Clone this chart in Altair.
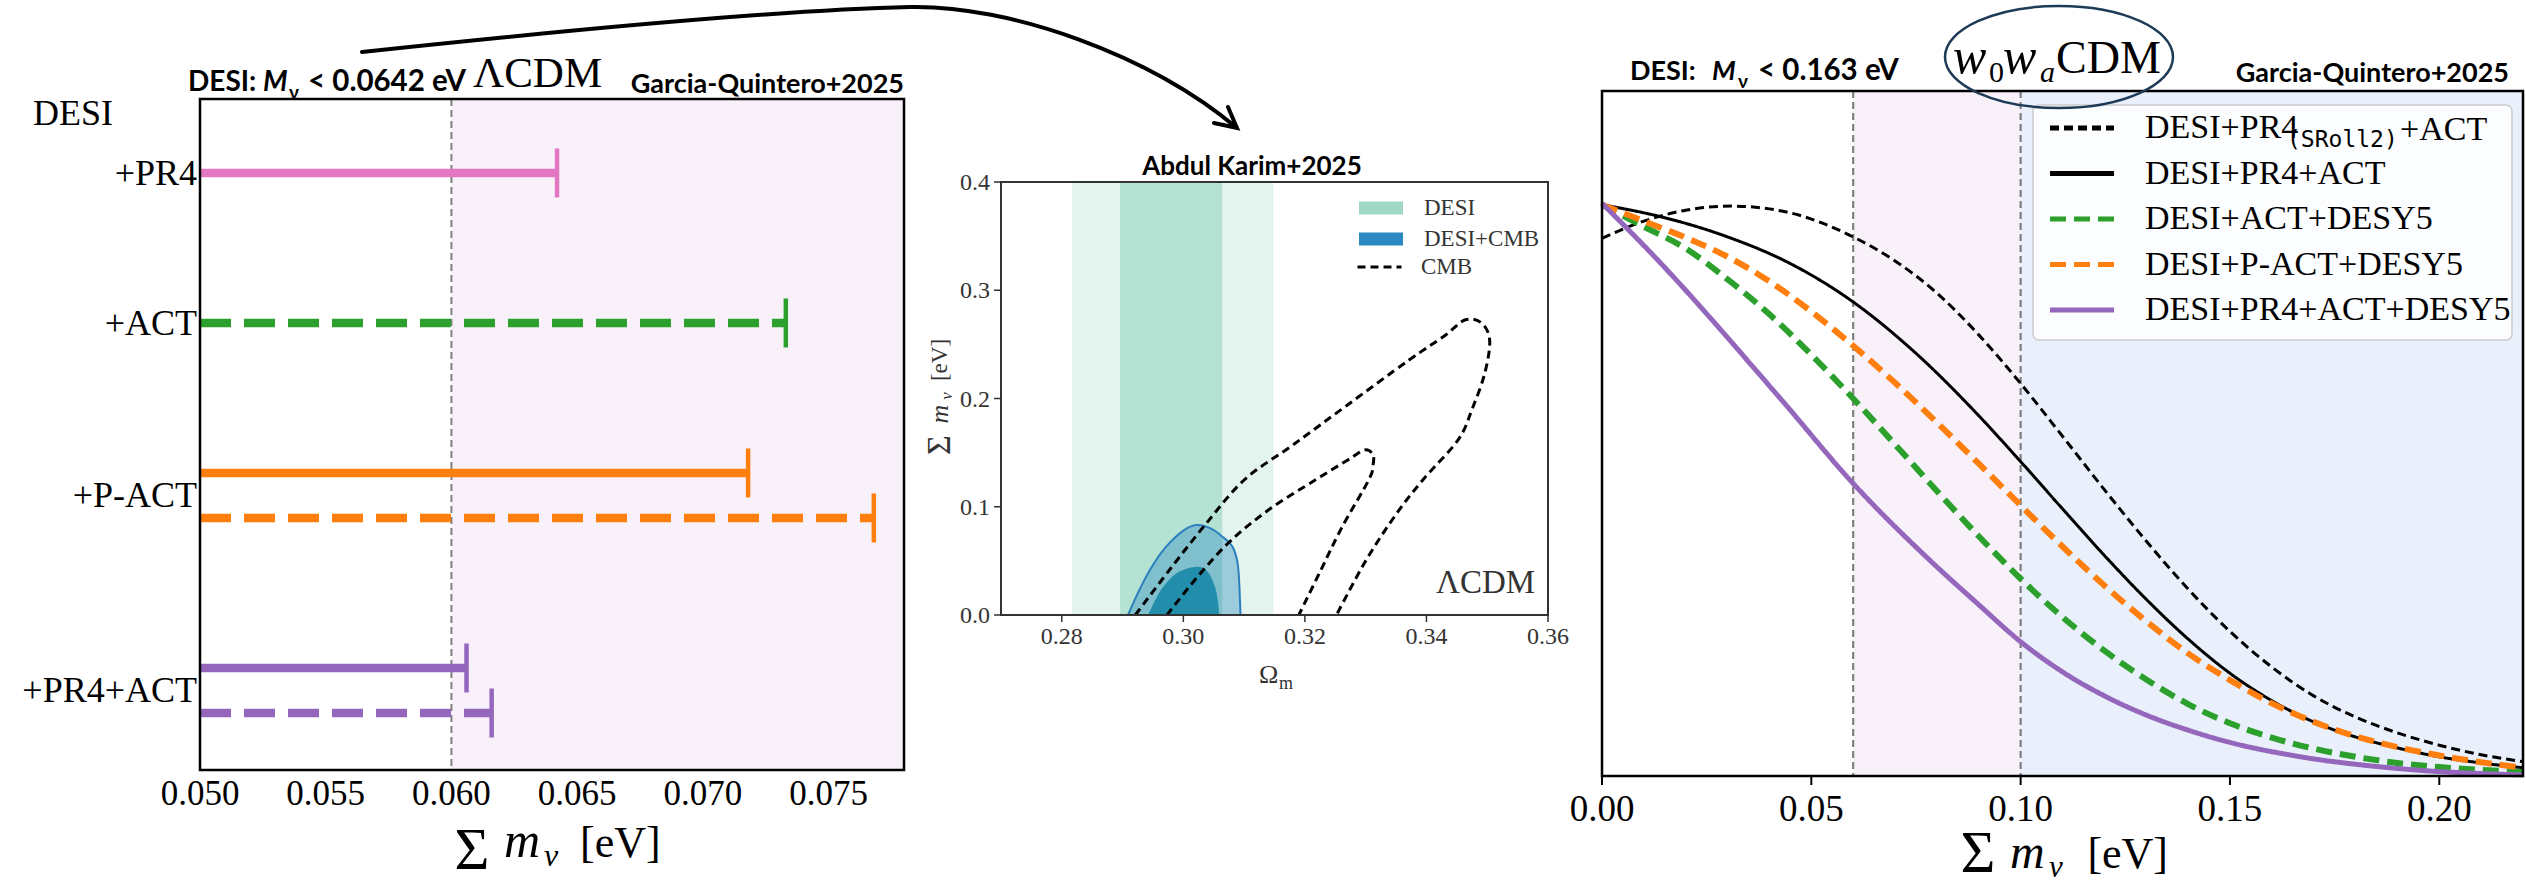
import altair as alt
import pandas as pd

W, H = 2526, 886
SERIF = "Liberation Serif"
SANS = "Lato, 'Open Sans', sans-serif"
MONO = "DejaVu Sans Mono"

# ---------------- left panel : LCDM upper limits ----------------
left_names = ["+PR4", "+ACT", "+P-ACT", "+P-ACT", "+PR4+ACT", "+PR4+ACT"]
left_styles = ["solid", "dashed", "solid", "dashed", "solid", "dashed"]
left_limits = [0.0642, 0.0733, 0.0718, 0.0768, 0.0606, 0.0616]
left_rows = [0.0, 1.0, 2.0, 2.3, 3.3, 3.6]
left_groups = ["+PR4", "+ACT", "+P-ACT", "+PR4+ACT"]
left_xdomain = [0.050, 0.078]
left_ydomain = [-0.493, 3.98]
left_xticks = [0.050, 0.055, 0.060, 0.065, 0.070, 0.075]
left_floor = 0.060

# ---------------- middle panel : Abdul Karim+2025 ----------------
mid_xdomain = [0.27, 0.36]
mid_ydomain = [0.0, 0.4]
mid_xticks = [0.28, 0.30, 0.32, 0.34, 0.36]
mid_yticks = [0.0, 0.1, 0.2, 0.3, 0.4]
desi_band_68 = [0.2896, 0.3064]
desi_band_95 = [0.2817, 0.3148]
cmb95_x = [0.2921, 0.2975, 0.3034, 0.3100, 0.3180, 0.3270, 0.3370, 0.3430, 0.3463, 0.3490,
           0.3504, 0.3496, 0.3475, 0.3452, 0.3394, 0.3350, 0.3300, 0.3252]
cmb95_y = [0.000, 0.040, 0.082, 0.1247, 0.157, 0.194, 0.235, 0.258, 0.2725, 0.270,
           0.254, 0.2235, 0.190, 0.1617, 0.1247, 0.093, 0.050, 0.000]
cmb68_x = [0.2973, 0.3020, 0.3074, 0.3140, 0.3217, 0.3270, 0.3298, 0.3312, 0.3312, 0.3305,
           0.3260, 0.3225, 0.3190]
cmb68_y = [0.000, 0.033, 0.0665, 0.097, 0.1247, 0.143, 0.1524, 0.148, 0.138, 0.1247,
           0.080, 0.040, 0.000]
dc95_x = [0.2909, 0.2925, 0.2945, 0.2970, 0.3000, 0.3022, 0.3045, 0.3065, 0.3081, 0.3090, 0.3094]
dc95_y = [0.000, 0.020, 0.0416, 0.062, 0.078, 0.0831, 0.080, 0.072, 0.0631, 0.045, 0.000]
dc68_x = [0.2942, 0.2955, 0.2967, 0.2990, 0.3022, 0.3040, 0.3052, 0.3057, 0.3059]
dc68_y = [0.000, 0.015, 0.026, 0.039, 0.0446, 0.040, 0.026, 0.012, 0.000]

# ---------------- right panel : w0waCDM posteriors ----------------
right_xdomain = [0.0, 0.22]
right_ydomain = [0.0, 1.0]
right_xticks = [0.00, 0.05, 0.10, 0.15, 0.20]
right_bounds = [0.06, 0.10]
right_series = ["DESI+PR4(SRoll2)+ACT", "DESI+PR4+ACT", "DESI+ACT+DESY5",
                "DESI+P-ACT+DESY5", "DESI+PR4+ACT+DESY5"]
sroll2_x = [0.0, 0.01, 0.02, 0.031, 0.045, 0.06, 0.07, 0.08, 0.09, 0.10, 0.11, 0.12, 0.13,
            0.14, 0.15, 0.16, 0.17, 0.18, 0.19, 0.20, 0.21, 0.22]
sroll2_y = [0.785, 0.810, 0.826, 0.832, 0.822, 0.787, 0.752, 0.705, 0.644, 0.573, 0.496, 0.418,
            0.343, 0.273, 0.211, 0.159, 0.117, 0.086, 0.063, 0.045, 0.031, 0.021]
pr4act_x = [0.0, 0.015, 0.03, 0.045, 0.06, 0.075, 0.09, 0.10, 0.11, 0.12, 0.13, 0.14, 0.15,
            0.16, 0.17, 0.18, 0.19, 0.20, 0.21, 0.22]
pr4act_y = [0.834, 0.815, 0.787, 0.748, 0.692, 0.617, 0.526, 0.459, 0.390, 0.322, 0.258, 0.200,
            0.150, 0.110, 0.079, 0.057, 0.041, 0.028, 0.019, 0.012]
actdes_x = [0.0, 0.01, 0.02, 0.03, 0.04, 0.05, 0.06, 0.07, 0.08, 0.09, 0.10, 0.11, 0.12, 0.13,
            0.14, 0.15, 0.16, 0.17, 0.18, 0.19, 0.20, 0.21, 0.22]
actdes_y = [0.834, 0.802, 0.770, 0.725, 0.674, 0.615, 0.551, 0.484, 0.416, 0.350, 0.288, 0.232,
            0.183, 0.141, 0.105, 0.077, 0.056, 0.040, 0.028, 0.019, 0.013, 0.009, 0.006]
pactdes_x = [0.0, 0.01, 0.02, 0.03, 0.04, 0.05, 0.06, 0.07, 0.08, 0.09, 0.10, 0.11, 0.12, 0.13,
             0.14, 0.15, 0.16, 0.17, 0.18, 0.19, 0.20, 0.21, 0.22]
pactdes_y = [0.834, 0.810, 0.786, 0.758, 0.722, 0.678, 0.628, 0.574, 0.516, 0.456, 0.395, 0.335,
             0.278, 0.226, 0.179, 0.140, 0.106, 0.079, 0.058, 0.042, 0.030, 0.020, 0.012]
pr4actdes_x = [0.0, 0.0107, 0.0429, 0.06, 0.0783, 0.09, 0.10, 0.11, 0.12, 0.13, 0.14, 0.15,
               0.165, 0.19, 0.22]
pr4actdes_y = [0.836, 0.770, 0.549, 0.427, 0.315, 0.250, 0.196, 0.152, 0.117, 0.089, 0.067,
               0.049, 0.030, 0.011, 0.0015]

# ---------------- styles ----------------
left_colors = ["#e377c2", "#2ca02c", "#ff7f0e", "#9467bd"]
right_colors = ["#000000", "#000000", "#2ca02c", "#ff7f0e", "#9467bd"]
right_dashes = [[9, 5], [1, 0], [16, 8], [16, 8], [1, 0]]

# pixel placement of the three plot areas on the 2526x886 canvas
LEFT_X, LEFT_Y = [200, 904], [99, 770]
MID_X, MID_Y = [1001, 1548], [615, 182]
RIGHT_X, RIGHT_Y = [1602, 2523], [776, 91]


def qscale(domain, rng):
    return alt.Scale(domain=domain, range=rng, nice=False, zero=False)


def txt(s, x, y, size, font=SERIF, weight="normal", style="normal", align="left",
        baseline="alphabetic", angle=0, color="black"):
    return alt.Chart(pd.DataFrame({"t": [s]})).mark_text(
        font=font, fontSize=size, fontWeight=weight, fontStyle=style, align=align,
        baseline=baseline, angle=angle, color=color
    ).encode(text="t:N", x=alt.value(x), y=alt.value(y))


def xlabels(ticks, xs, ybase, size, fmt, color="black"):
    return alt.Chart(pd.DataFrame({"v": ticks})).mark_text(
        font=SERIF, fontSize=size, align="center", baseline="alphabetic", color=color
    ).encode(x=alt.X("v:Q", scale=xs, axis=None), y=alt.value(ybase),
             text=alt.Text("v:Q", format=fmt))


def xticks(ticks, xs, y0, y1, width, color="black"):
    return alt.Chart(pd.DataFrame({"v": ticks})).mark_rule(color=color, strokeWidth=width).encode(
        x=alt.X("v:Q", scale=xs, axis=None), y=alt.value(y0), y2=alt.value(y1))


# ================= LEFT PANEL =================
lxs = qscale(left_xdomain, LEFT_X)
lys = qscale(left_ydomain, LEFT_Y)
left_df = pd.DataFrame({"name": left_names, "style": left_styles, "limit": left_limits,
                        "row": left_rows, "lo": left_xdomain[0]})
label_pos = [float(left_df.loc[left_df.name == g, "row"].mean()) for g in left_groups]
lbox = pd.DataFrame({"x0": [left_xdomain[0]], "x1": [left_xdomain[1]], "s0": [left_floor],
                     "y0": [left_ydomain[0]], "y1": [left_ydomain[1]]})
color_left = alt.Color("name:N", scale=alt.Scale(domain=left_groups, range=left_colors), legend=None)
l_shade = alt.Chart(lbox).mark_rect(color="#f8f1f9").encode(
    x=alt.X("s0:Q", scale=lxs, axis=None), x2="x1:Q",
    y=alt.Y("y0:Q", scale=lys, axis=None), y2="y1:Q")
l_vline = alt.Chart(lbox).mark_rule(color="#808080", strokeDash=[7, 4], strokeWidth=2).encode(
    x=alt.X("s0:Q", scale=lxs, axis=None), y=alt.Y("y0:Q", scale=lys, axis=None), y2="y1:Q")
l_bars = alt.Chart(left_df).mark_rule(strokeWidth=8.5).encode(
    x=alt.X("lo:Q", scale=lxs, axis=None), x2="limit:Q",
    y=alt.Y("row:Q", scale=lys, axis=None),
    color=color_left,
    strokeDash=alt.StrokeDash("style:N", scale=alt.Scale(domain=["solid", "dashed"],
                                                         range=[[1, 0], [31, 13]]), legend=None))
l_caps = alt.Chart(left_df).mark_tick(orient="vertical", size=49, thickness=4.5, opacity=1).encode(
    x=alt.X("limit:Q", scale=lxs, axis=None), y=alt.Y("row:Q", scale=lys, axis=None),
    color=color_left)
l_frame = alt.Chart(lbox).mark_rect(filled=False, color="black", strokeWidth=2.5).encode(
    x=alt.X("x0:Q", scale=lxs, axis=None), x2="x1:Q",
    y=alt.Y("y0:Q", scale=lys, axis=None), y2="y1:Q")
l_xlab = xlabels(left_xticks, lxs, 805, 35, ".3f")
l_ylab = alt.Chart(pd.DataFrame({"g": left_groups, "p": label_pos})).mark_text(
    font=SERIF, fontSize=36, align="right", baseline="alphabetic", dy=12, color="black"
).encode(x=alt.value(197), y=alt.Y("p:Q", scale=lys, axis=None), text="g:N")
left = alt.layer(l_shade, l_vline, l_bars, l_caps, l_frame, l_xlab, l_ylab)

# ================= MIDDLE PANEL =================
mxs = qscale(mid_xdomain, MID_X)
mys = qscale(mid_ydomain, MID_Y)
fill_scale = alt.Scale(domain=["DESI", "DESI+CMB"], range=["#9ed9c5", "#2b88c0"])
fill_legend = alt.Legend(orient="none", legendX=1369.5, legendY=196.5, title=None,
                         symbolType="M-3,-0.9H3V0.9H-3Z", symbolSize=215, symbolOpacity=1,
                         symbolStrokeWidth=0, labelFont=SERIF, labelFontSize=23,
                         labelColor="#333333", labelOffset=31.5, rowPadding=7, padding=0)
dash_legend = alt.Legend(orient="none", legendX=1368, legendY=255.5, title=None,
                         symbolType="M-3,0H3", symbolSize=215, symbolStrokeWidth=3,
                         symbolStrokeColor="black", symbolOpacity=1, labelFont=SERIF,
                         labelFontSize=23, labelColor="#333333", labelOffset=30, padding=0)
bands = pd.DataFrame({"label": ["DESI", "DESI"], "lo": [desi_band_95[0], desi_band_68[0]],
                      "hi": [desi_band_95[1], desi_band_68[1]], "lev": ["95", "68"],
                      "y0": mid_ydomain[0], "y1": mid_ydomain[1]})
m_b95 = alt.Chart(bands[bands.lev == "95"]).mark_rect(opacity=0.29).encode(
    x=alt.X("lo:Q", scale=mxs, axis=None), x2="hi:Q",
    y=alt.Y("y0:Q", scale=mys, axis=None), y2="y1:Q",
    fill=alt.Fill("label:N", scale=fill_scale, legend=fill_legend))
m_b68 = alt.Chart(bands[bands.lev == "68"]).mark_rect(opacity=0.68).encode(
    x=alt.X("lo:Q", scale=mxs, axis=None), x2="hi:Q",
    y=alt.Y("y0:Q", scale=mys, axis=None), y2="y1:Q",
    fill=alt.Fill("label:N", scale=fill_scale, legend=fill_legend))
dc95 = pd.DataFrame({"x": dc95_x, "y": dc95_y, "base": 0.0, "label": "DESI+CMB"})
dc68 = pd.DataFrame({"x": dc68_x, "y": dc68_y, "base": 0.0})
m_dc95 = alt.Chart(dc95).mark_area(opacity=0.38, interpolate="cardinal").encode(
    x=alt.X("x:Q", scale=mxs, axis=None), y=alt.Y("y:Q", scale=mys, axis=None), y2="base:Q",
    fill=alt.Fill("label:N", scale=fill_scale, legend=fill_legend))
m_dc95_line = alt.Chart(dc95).mark_line(color="#2b7fbd", strokeWidth=2, interpolate="cardinal").encode(
    x=alt.X("x:Q", scale=mxs, axis=None), y=alt.Y("y:Q", scale=mys, axis=None))
m_dc68 = alt.Chart(dc68).mark_area(color="#1a87a8", opacity=0.9, interpolate="cardinal").encode(
    x=alt.X("x:Q", scale=mxs, axis=None), y=alt.Y("y:Q", scale=mys, axis=None), y2="base:Q")
cmb = pd.concat([
    pd.DataFrame({"x": cmb95_x, "y": cmb95_y, "contour": "95", "idx": range(len(cmb95_x))}),
    pd.DataFrame({"x": cmb68_x, "y": cmb68_y, "contour": "68", "idx": range(len(cmb68_x))}),
])
cmb["name"] = "CMB"
m_cmb = alt.Chart(cmb).mark_line(color="black", strokeWidth=3, interpolate="cardinal").encode(
    x=alt.X("x:Q", scale=mxs, axis=None), y=alt.Y("y:Q", scale=mys, axis=None),
    detail="contour:N", order="idx:Q",
    strokeDash=alt.StrokeDash("name:N", scale=alt.Scale(domain=["CMB"], range=[[8, 5]]),
                              legend=dash_legend))
mbox = pd.DataFrame({"x0": [mid_xdomain[0]], "x1": [mid_xdomain[1]],
                     "y0": [mid_ydomain[0]], "y1": [mid_ydomain[1]]})
m_frame = alt.Chart(mbox).mark_rect(filled=False, color="#333333", strokeWidth=2).encode(
    x=alt.X("x0:Q", scale=mxs, axis=None), x2="x1:Q",
    y=alt.Y("y0:Q", scale=mys, axis=None), y2="y1:Q")
m_xtick = xticks(mid_xticks, mxs, MID_Y[0], MID_Y[0] + 7, 1.5, "#333333")
m_xlab = xlabels(mid_xticks, mxs, 644, 24, ".2f", "#333333")
m_ytick = alt.Chart(pd.DataFrame({"v": mid_yticks})).mark_rule(color="#333333", strokeWidth=1.5).encode(
    y=alt.Y("v:Q", scale=mys, axis=None), x=alt.value(MID_X[0] - 7), x2=alt.value(MID_X[0]))
m_ylab = alt.Chart(pd.DataFrame({"v": mid_yticks})).mark_text(
    font=SERIF, fontSize=24, align="right", baseline="alphabetic", dy=8, color="#333333"
).encode(y=alt.Y("v:Q", scale=mys, axis=None), x=alt.value(990),
         text=alt.Text("v:Q", format=".1f"))
middle = alt.layer(m_b95, m_b68, m_dc95, m_dc95_line, m_dc68, m_cmb, m_frame,
                   m_xtick, m_xlab, m_ytick, m_ylab)

# ================= RIGHT PANEL =================
rxs = qscale(right_xdomain, RIGHT_X)
rys = qscale(right_ydomain, RIGHT_Y)
curves = pd.concat([
    pd.DataFrame({"series": right_series[0], "x": sroll2_x, "y": sroll2_y}),
    pd.DataFrame({"series": right_series[1], "x": pr4act_x, "y": pr4act_y}),
    pd.DataFrame({"series": right_series[2], "x": actdes_x, "y": actdes_y}),
    pd.DataFrame({"series": right_series[3], "x": pactdes_x, "y": pactdes_y}),
    pd.DataFrame({"series": right_series[4], "x": pr4actdes_x, "y": pr4actdes_y}),
])
rbox = pd.DataFrame({"x0": [right_xdomain[0]], "x1": [right_xdomain[1]],
                     "b0": [right_bounds[0]], "b1": [right_bounds[1]],
                     "y0": [right_ydomain[0]], "y1": [right_ydomain[1]]})
r_shade_a = alt.Chart(rbox).mark_rect(color="#f8f1f9").encode(
    x=alt.X("b0:Q", scale=rxs, axis=None), x2="b1:Q",
    y=alt.Y("y0:Q", scale=rys, axis=None), y2="y1:Q")
r_shade_b = alt.Chart(rbox).mark_rect(color="#e9effb").encode(
    x=alt.X("b1:Q", scale=rxs, axis=None), x2="x1:Q",
    y=alt.Y("y0:Q", scale=rys, axis=None), y2="y1:Q")
r_vlines = alt.Chart(pd.DataFrame({"v": right_bounds})).mark_rule(
    color="#808080", strokeDash=[7, 4], strokeWidth=2.2).encode(
    x=alt.X("v:Q", scale=rxs, axis=None), y=alt.value(RIGHT_Y[1]), y2=alt.value(RIGHT_Y[0]))
first_label = right_series[0]
r_legend = alt.Legend(orient="none", legendX=2065, legendY=111, title=None, padding=0,
                      symbolType="M-4,0H4", symbolSize=256, symbolOpacity=1, symbolStrokeWidth=5,
                      labelFont=SERIF, labelFontSize=34, labelColor="black", labelOffset=46,
                      rowPadding=11.5, labelLimit=600,
                      labelExpr=f"datum.label == '{first_label}' ? 'DESI+PR4' : datum.label")
r_color = alt.Color("series:N", scale=alt.Scale(domain=right_series, range=right_colors),
                    legend=r_legend)
r_dash = alt.StrokeDash("series:N", scale=alt.Scale(domain=right_series, range=right_dashes),
                        legend=r_legend)


def curve_layer(names, width):
    return alt.Chart(curves[curves.series.isin(names)]).mark_line(
        interpolate="monotone", strokeWidth=width).encode(
        x=alt.X("x:Q", scale=rxs, axis=None), y=alt.Y("y:Q", scale=rys, axis=None),
        color=r_color, strokeDash=r_dash)


r_thin = curve_layer(right_series[0:2], 3)
r_thick = curve_layer(right_series[2:4], 6)
r_purple = curve_layer(right_series[4:5], 5)
r_frame = alt.Chart(rbox).mark_rect(filled=False, color="black", strokeWidth=2.5).encode(
    x=alt.X("x0:Q", scale=rxs, axis=None), x2="x1:Q",
    y=alt.Y("y0:Q", scale=rys, axis=None), y2="y1:Q")
r_xtick = xticks(right_xticks, rxs, RIGHT_Y[0], RIGHT_Y[0] + 9, 2)
r_xlab = xlabels(right_xticks, rxs, 821, 37, ".2f")
right = alt.layer(r_shade_a, r_shade_b, r_vlines, r_thin, r_thick, r_purple, r_frame,
                  r_xtick, r_xlab)

# ================= annotations =================
legend_box = alt.Chart(pd.DataFrame({"a": [0]})).mark_rect(
    fill="white", fillOpacity=0.85, stroke="#cccccc", strokeWidth=1.5, cornerRadius=6
).encode(x=alt.value(2033), x2=alt.value(2512), y=alt.value(105), y2=alt.value(340))

# curved arrow (drawn as one custom symbol path)
arrow_ctrl = [(362, 52), (540, 33), (780, 10), (910, 7), (1010, 5), (1150, 55), (1237, 128)]
arrow_head = [(1214, 123), (1237, 128), (1228, 107)]
acx, acy, ahalf = 799.5, 67.5, 437.5


def nrm(p):
    return f"{(p[0] - acx) / ahalf:.4f},{(p[1] - acy) / ahalf:.4f}"


arrow_path = ("M" + nrm(arrow_ctrl[0]) + " C" + " ".join(nrm(p) for p in arrow_ctrl[1:4]) +
              " C" + " ".join(nrm(p) for p in arrow_ctrl[4:7]) +
              " M" + nrm(arrow_head[0]) + " L" + nrm(arrow_head[1]) + " L" + nrm(arrow_head[2]))
arrow = alt.Chart(pd.DataFrame({"a": [0]})).mark_point(
    shape=arrow_path, size=(2 * ahalf) ** 2, filled=False, color="black", strokeWidth=4,
    opacity=1, strokeCap="round"
).encode(x=alt.value(acx), y=alt.value(acy))

k = 51 / 114
c = 0.5523
ell_path = (f"M1,0 C1,{c*k:.4f} {c:.4f},{k:.4f} 0,{k:.4f} C{-c:.4f},{k:.4f} -1,{c*k:.4f} -1,0 "
            f"C-1,{-c*k:.4f} {-c:.4f},{-k:.4f} 0,{-k:.4f} C{c:.4f},{-k:.4f} 1,{-c*k:.4f} 1,0 Z")
ellipse = alt.Chart(pd.DataFrame({"a": [0]})).mark_point(
    shape=ell_path, size=228 ** 2, filled=False, color="#1d3a56", strokeWidth=2.5, opacity=1
).encode(x=alt.value(2059), y=alt.value(57))

texts = [
    # left panel
    txt("DESI:", 188, 91, 28, font=SANS, weight="bold"),
    txt("M", 263, 91, 28, font=SANS, weight="bold", style="italic"),
    txt("ν", 289, 99, 19, font=SANS, weight="bold"),
    txt("< 0.0642 eV", 308, 91, 29.5, font=SANS, weight="bold"),
    txt("ΛCDM", 473, 87, 43),
    txt("Garcia-Quintero+2025", 904, 93, 27, font=SANS, weight="bold", align="right"),
    txt("DESI", 33, 125, 36),
    txt("Σ", 472, 869, 60, align="center"),
    txt("m", 504, 857, 50, style="italic"),
    txt("ν", 544, 866, 32, style="italic"),
    txt("[eV]", 580, 857, 44),
    # middle panel
    txt("Abdul Karim+2025", 1252, 175, 26, font=SANS, weight="bold", align="center"),
    txt("ΛCDM", 1436, 593, 33, color="#333333"),
    txt("Ω", 1259, 683, 26, color="#333333"),
    txt("m", 1279, 689, 18, color="#333333"),
    txt("Σ", 940, 445, 34, align="center", baseline="middle", angle=270, color="#333333"),
    txt("m", 940, 414, 26, style="italic", align="center", baseline="middle", angle=270, color="#333333"),
    txt("ν", 947, 396, 17, style="italic", align="center", baseline="middle", angle=270, color="#333333"),
    txt("[eV]", 940, 360, 23, align="center", baseline="middle", angle=270, color="#333333"),
    # right panel
    txt("DESI:", 1630, 80, 27, font=SANS, weight="bold"),
    txt("M", 1712, 80, 27, font=SANS, weight="bold", style="italic"),
    txt("ν", 1738, 88, 19, font=SANS, weight="bold"),
    txt("< 0.163 eV", 1758, 80, 29.5, font=SANS, weight="bold"),
    txt("w", 1953, 73, 50, style="italic"),
    txt("0", 1989, 82, 30),
    txt("w", 2003, 73, 50, style="italic"),
    txt("a", 2040, 82, 30, style="italic"),
    txt("CDM", 2056, 73, 46),
    txt("Garcia-Quintero+2025", 2509, 82, 27, font=SANS, weight="bold", align="right"),
    txt("Σ", 1978, 872, 60, align="center"),
    txt("m", 2010, 868, 48, style="italic"),
    txt("ν", 2049, 877, 31, style="italic"),
    txt("[eV]", 2168, 868, 44, align="right"),
    # subscript part of the first legend entry
    txt("(SRoll2)", 2287, 147, 23, font=MONO),
    txt("+ACT", 2400, 140, 34),
]

chart = alt.layer(left, middle, right, legend_box, arrow, ellipse, *texts).resolve_scale(
    x="independent", y="independent", color="independent", fill="independent",
    strokeDash="independent"
).properties(
    width=W, height=H, padding=0, background="white",
    autosize=alt.AutoSizeParams(type="none")
).configure_view(stroke=None)

chart.save("out.html", embed_options={"renderer": "svg", "actions": False})
